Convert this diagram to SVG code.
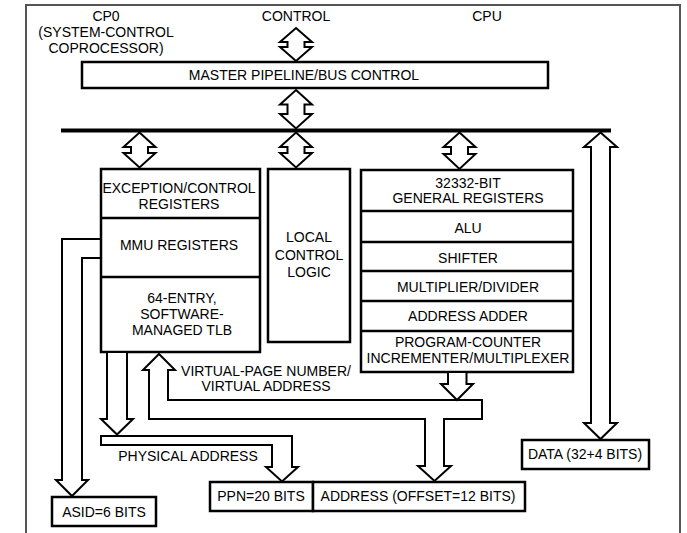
<svg xmlns="http://www.w3.org/2000/svg" width="687" height="533" viewBox="0 0 687 533">
<style>
text{font-family:"Liberation Sans",Arial,sans-serif;font-size:14px;fill:#000;text-anchor:middle}
.box{fill:#fff;stroke:#000;stroke-width:2.5}
.div{stroke:#000;stroke-width:2.5;fill:none}
.arr{fill:#fff;stroke:#000;stroke-width:2;stroke-linejoin:miter}
.ln{fill:none;stroke:#000;stroke-width:2}
</style>
<path d="M26,533 L26,5 L680,5 L680,533" fill="none" stroke="#555" stroke-width="2"/>
<g id="labels-top">
<text x="106" y="21">CP0</text>
<text x="106" y="37">(SYSTEM-CONTROL</text>
<text x="106" y="53">COPROCESSOR)</text>
<text x="296" y="21">CONTROL</text>
<text x="487" y="21">CPU</text>
</g>
<g id="master">
<rect class="box" x="82" y="62" width="466" height="26"/>
<text x="304" y="80">MASTER PIPELINE/BUS CONTROL</text>
</g>
<g id="cp0">
<rect class="box" x="101" y="169" width="159" height="183"/>
<line class="div" x1="101" y1="218" x2="260" y2="218"/>
<line class="div" x1="101" y1="277" x2="260" y2="277"/>
<text x="179" y="193">EXCEPTION/CONTROL</text>
<text x="179" y="209">REGISTERS</text>
<text x="179" y="250">MMU REGISTERS</text>
<text x="182" y="303">64-ENTRY,</text>
<text x="182" y="319">SOFTWARE-</text>
<text x="182" y="335">MANAGED TLB</text>
</g>
<g id="local">
<rect class="box" x="268" y="169" width="82" height="173"/>
<text x="309" y="242">LOCAL</text>
<text x="309" y="260">CONTROL</text>
<text x="309" y="277">LOGIC</text>
</g>
<g id="cpu">
<rect class="box" x="361" y="170" width="212" height="202"/>
<line class="div" x1="361" y1="211" x2="573" y2="211"/>
<line class="div" x1="361" y1="242" x2="573" y2="242"/>
<line class="div" x1="361" y1="271" x2="573" y2="271"/>
<line class="div" x1="361" y1="301" x2="573" y2="301"/>
<line class="div" x1="361" y1="331" x2="573" y2="331"/>
<text x="468" y="188">32332-BIT</text>
<text x="468" y="203">GENERAL REGISTERS</text>
<text x="468" y="233">ALU</text>
<text x="468" y="263">SHIFTER</text>
<text x="468" y="292">MULTIPLIER/DIVIDER</text>
<text x="468" y="321">ADDRESS ADDER</text>
<text x="468" y="347">PROGRAM-COUNTER</text>
<text x="468" y="363">INCREMENTER/MULTIPLEXER</text>
</g>
<g id="asid">
<rect class="box" x="52" y="497" width="104" height="29"/>
<text x="104" y="517">ASID=6 BITS</text>
</g>
<g id="ppn">
<rect class="box" x="210" y="482" width="103" height="29"/>
<text x="261" y="501">PPN=20 BITS</text>
</g>
<g id="offset">
<rect class="box" x="313" y="482" width="212" height="29"/>
<text x="418" y="501">ADDRESS (OFFSET=12 BITS)</text>
</g>
<g id="data">
<rect class="box" x="522" y="440" width="127" height="29"/>
<text x="585" y="459">DATA (32+4 BITS)</text>
</g>
<g id="connectors">
<line x1="61" y1="130.5" x2="611" y2="130.5" stroke="#000" stroke-width="4"/>
<path class="arr" d="M296,28 L312,42 L304.5,42 L304.5,47 L312,47 L296,61 L280,47 L287.5,47 L287.5,42 L280,42 Z"/>
<path class="arr" d="M296,90 L312,104.5 L304.5,104.5 L304.5,114 L312,114 L296,128.5 L280,114 L287.5,114 L287.5,104.5 L280,104.5 Z"/>
<path class="arr" d="M139.5,132.5 L155.5,147 L148,147 L148,153 L155.5,153 L139.5,167.5 L123.5,153 L131,153 L131,147 L123.5,147 Z"/>
<path class="arr" d="M296,132.5 L312,147 L304.5,147 L304.5,153 L312,153 L296,167.5 L280,153 L287.5,153 L287.5,147 L280,147 Z"/>
<path class="arr" d="M459.5,132.5 L475.5,147 L468,147 L468,154 L475.5,154 L459.5,169 L443.5,154 L451,154 L451,147 L443.5,147 Z"/>
<path class="arr" d="M600.5,132.5 L617,147 L610,147 L610,423 L617,423 L600.5,439 L584,423 L591,423 L591,147 L584,147 Z"/>
<path class="ln" d="M101,239 L62,239 L62,480 L56,480 L72,496 L88,480 L82,480 L82,258 L101,258"/>
<path class="arr" d="M107,353 L107,419 L101,419 L117,434.5 L133,419 L127,419 L127,353"/>
<path class="arr" d="M101,436 L292,436 L292,467 L298,467 L282,481.5 L266,467 L272,467 L272,445 L101,445 Z"/>
<path class="arr" d="M159,354 L175,370 L168,370 L168,400 L482,400 L482,419 L444,419 L444,466 L451,466 L434.5,481 L418,466 L425,466 L425,419 L149,419 L149,370 L143,370 Z"/>
<path class="arr" d="M448,373 L448,384 L441,384 L457,400 L473,384 L466.5,384 L466.5,373"/>
</g>
<g id="bus-labels">
<text x="266" y="376">VIRTUAL-PAGE NUMBER/</text>
<text x="266" y="391">VIRTUAL ADDRESS</text>
<text x="188" y="461">PHYSICAL ADDRESS</text>
</g>
</svg>
